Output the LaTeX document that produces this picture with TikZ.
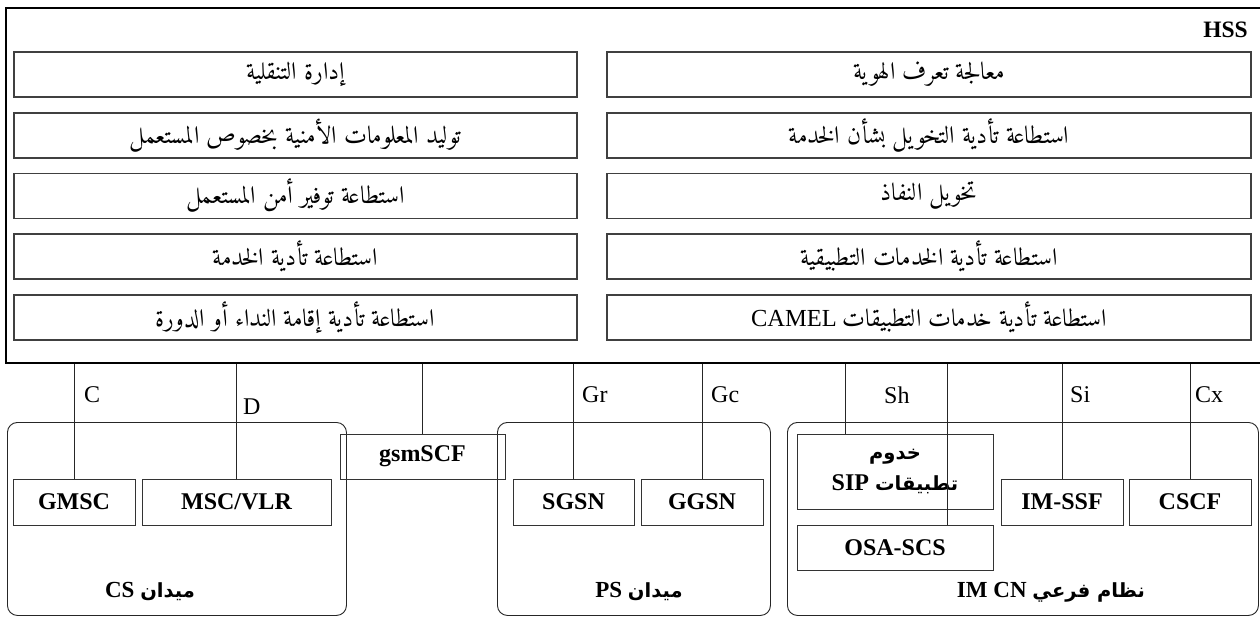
\documentclass[tikz,border=0pt]{standalone}
\usepackage{fontspec}
\setmainfont{Liberation Serif}
\newfontfamily\arabicfont[Script=Arabic]{Amiri}
\newfontfamily\arabicsans[Script=Arabic]{DejaVu Sans}
\TeXXeTstate=1
\newcommand{\rtl}[1]{\beginR #1\endR}
\newcommand{\ltr}[1]{\beginL #1\endL}
\newcommand{\artx}[1]{{\arabicfont\rtl{#1}}}
\newcommand{\arbd}[1]{{\arabicsans\bfseries\fontsize{19.5}{22}\selectfont #1}}

\begin{document}
\begin{tikzpicture}[x=1pt,y=-1pt,
  hssbox/.style={draw=black!75, line width=1.3pt, minimum height=45pt, inner sep=0pt,
                 font=\fontsize{24.5}{27}\selectfont},
  unit/.style={draw=black!80, line width=0.9pt, inner sep=0pt, minimum height=46pt,
               font=\fontsize{24}{27}\selectfont\bfseries},
  domainbox/.style={draw=black!85, line width=0.9pt, rounded corners=10pt, inner sep=0pt,
                 anchor=north west, minimum height=193pt},
  iface/.style={draw=black!85, line width=0.8pt},
  ifl/.style={font=\fontsize{24}{26}\selectfont, inner sep=0pt, anchor=west},
  dlabel/.style={font=\fontsize{23}{26}\selectfont\bfseries, inner sep=0pt}
]
\useasboundingbox (0,0) rectangle (1260,617);
\fill[white] (0,0) rectangle (1260,617);

% HSS frame and its functions
\node[draw, line width=2pt, anchor=north west, minimum width=1265pt, minimum height=355pt,
      inner sep=0pt] (hss) at (5,7) {};
\node[font=\fontsize{23.5}{26}\selectfont\bfseries, anchor=east, inner sep=0pt] (hsslabel)
      at (1248,30) {HSS};

\node[hssbox, minimum width=563pt] (f1) at (295.5,74.5) {\artx{إدارة التنقلية}};
\node[hssbox, minimum width=563pt] (f2) at (295.5,135.5) {\artx{توليد المعلومات الأمنية بخصوص المستعمل}};
\node[hssbox, minimum width=563pt] (f3) at (295.5,196) {\artx{استطاعة توفير أمن المستعمل}};
\node[hssbox, minimum width=563pt] (f4) at (295.5,256.5) {\artx{استطاعة تأدية الخدمة}};
\node[hssbox, minimum width=563pt] (f5) at (295.5,317.5) {\artx{استطاعة تأدية إقامة النداء أو الدورة}};

\node[hssbox, minimum width=644pt] (g1) at (929,74.5) {\artx{معالجة تعرف الهوية}};
\node[hssbox, minimum width=644pt] (g2) at (929,135.5) {\artx{استطاعة تأدية التخويل بشأن الخدمة}};
\node[hssbox, minimum width=644pt] (g3) at (929,196) {\artx{تخويل النفاذ}};
\node[hssbox, minimum width=644pt] (g4) at (929,256.5) {\artx{استطاعة تأدية الخدمات التطبيقية}};
\node[hssbox, minimum width=644pt] (g5) at (929,317.5)
      {\rtl{{\arabicfont استطاعة تأدية خدمات التطبيقات} \ltr{CAMEL}}};

% Domains
\node[domainbox, minimum width=339pt] (csdom) at (7,422) {};
\node[domainbox, minimum width=273pt] (psdom) at (497,422) {};
\node[domainbox, minimum width=471pt] (imdom) at (787,422) {};

\node[dlabel] (cslabel) at (150,592) {\rtl{\arbd{ميدان} \ltr{CS}}};
\node[dlabel] (pslabel) at (639,592) {\rtl{\arbd{ميدان} \ltr{PS}}};
\node[dlabel] (imlabel) at (1051,592) {\rtl{\arbd{نظام فرعي} \ltr{IM CN}}};

% Network elements
\node[unit, minimum width=122pt] (gmsc) at (74,502) {GMSC};
\node[unit, minimum width=189pt] (msc) at (236.5,502) {MSC/VLR};
\node[unit, minimum width=165pt, minimum height=45pt] (gsmscf) at (422.5,456.5) {gsmSCF};
\node[unit, minimum width=121pt] (sgsn) at (573.5,502) {SGSN};
\node[unit, minimum width=122pt] (ggsn) at (702,502) {GGSN};
\node[unit, minimum width=196pt, minimum height=75pt, align=center] (sip) at (895,471.5)
      {\arbd{خدوم}\\[4pt]\rtl{\arbd{تطبيقات} \ltr{SIP}}};
\node[unit, minimum width=196pt, minimum height=45pt] (osa) at (895,547.5) {OSA-SCS};
\node[unit, minimum width=122pt] (imssf) at (1062,502) {IM-SSF};
\node[unit, minimum width=122pt] (cscf) at (1190,502) {CSCF};

% Interfaces towards the HSS
\path (sip.north west) ++(49,0) coordinate (shfoot);
\path (osa.north west) ++(151,0) coordinate (osafoot);

\draw[iface] (gmsc.north |- hss.south) -- (gmsc.north);
\draw[iface] (msc.north |- hss.south) -- (msc.north);
\draw[iface] (gsmscf.north |- hss.south) -- (gsmscf.north);
\draw[iface] (sgsn.north |- hss.south) -- (sgsn.north);
\draw[iface] (ggsn.north |- hss.south) -- (ggsn.north);
\draw[iface] (shfoot |- hss.south) -- (shfoot);
\draw[iface] (osafoot |- hss.south) -- (osafoot);
\draw[iface] (imssf.north |- hss.south) -- (imssf.north);
\draw[iface] (cscf.north |- hss.south) -- (cscf.north);

\node[ifl] (lc) at (84,395) {C};
\node[ifl] (ld) at (243,407) {D};
\node[ifl] (lgr) at (582,395) {Gr};
\node[ifl] (lgc) at (711,395) {Gc};
\node[ifl] (lsh) at (884,395) {Sh};
\node[ifl] (lsi) at (1070,395) {Si};
\node[ifl] (lcx) at (1195,395) {Cx};
\end{tikzpicture}
\end{document}
